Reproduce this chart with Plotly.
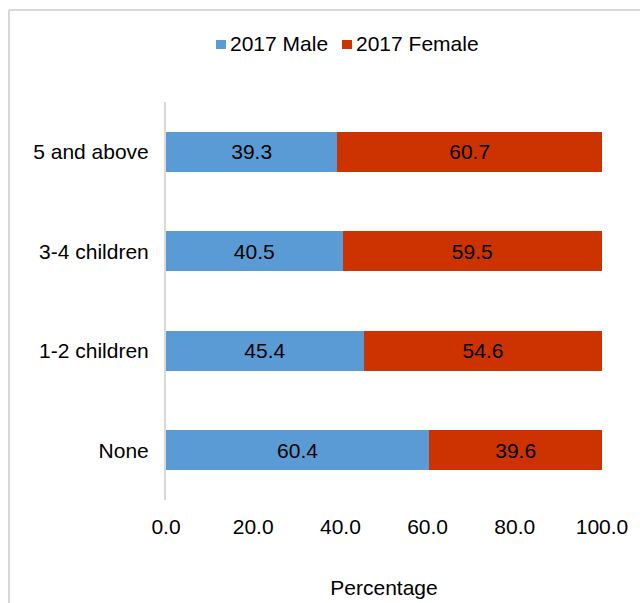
import plotly.graph_objects as go

# Number of children (bottom to top on the category axis)
categories = ["None", "1-2 children", "3-4 children", "5 and above"]
male_2017 = [60.4, 45.4, 40.5, 39.3]
female_2017 = [39.6, 54.6, 59.5, 60.7]
series_names = ["2017 Male", "2017 Female"]
series_colors = ["#5B9BD5", "#CC3300"]
x_ticks = [0, 20, 40, 60, 80, 100]

FONT = "Liberation Sans, Arial, sans-serif"
FS = 21

# plot-area geometry in pixels (used to place the legend and frame in paper coords)
W, H = 640, 603
ML, MR, MT, MB = 166, 38, 102, 103
PW, PH = W - ML - MR, H - MT - MB


def px_to_paper_x(px):
    return (px - ML) / PW


def px_to_paper_y(py):
    return (H - MB - py) / PH


fig = go.Figure()
for name, vals, col in zip(series_names, [male_2017, female_2017], series_colors):
    fig.add_trace(go.Bar(
        y=categories, x=vals, name=name, orientation="h",
        marker=dict(color=col, line=dict(width=0)),
        text=[f"{v:.1f}" for v in vals], textposition="inside",
        insidetextanchor="middle", constraintext="none",
        textfont=dict(family=FONT, size=FS, color="#000000"),
        showlegend=False, hoverinfo="skip",
    ))

# legend drawn as squares + labels above the plot
legend_items = [(series_names[0], series_colors[0], 216), (series_names[1], series_colors[1], 342)]
shapes = []
annotations = []
for name, col, x0 in legend_items:
    shapes.append(dict(type="rect", xref="paper", yref="paper",
                       x0=px_to_paper_x(x0), x1=px_to_paper_x(x0 + 10),
                       y0=px_to_paper_y(49), y1=px_to_paper_y(40),
                       fillcolor=col, line=dict(width=0)))
    annotations.append(dict(text=name, xref="paper", yref="paper",
                            x=px_to_paper_x(x0 + 12), y=px_to_paper_y(43.5),
                            xanchor="left", yanchor="middle", showarrow=False,
                            font=dict(family=FONT, size=FS, color="#000000")))

# chart frame (left and top edges)
frame_col = "#D9D9D9"
shapes.append(dict(type="line", xref="paper", yref="paper", layer="below",
                   x0=px_to_paper_x(9), x1=px_to_paper_x(W + 5),
                   y0=px_to_paper_y(10), y1=px_to_paper_y(10),
                   line=dict(color=frame_col, width=2)))
shapes.append(dict(type="line", xref="paper", yref="paper", layer="below",
                   x0=px_to_paper_x(9), x1=px_to_paper_x(9),
                   y0=px_to_paper_y(10), y1=px_to_paper_y(H + 5),
                   line=dict(color=frame_col, width=2)))

fig.update_layout(
    barmode="stack", bargap=0.6,
    width=W, height=H,
    margin=dict(l=ML, r=MR, t=MT, b=MB, pad=0, autoexpand=False),
    paper_bgcolor="white", plot_bgcolor="white",
    font=dict(family=FONT, size=FS, color="#000000"),
    shapes=shapes, annotations=annotations,
    xaxis=dict(range=[0, 100], tickvals=x_ticks, tickformat=".1f",
               showgrid=False, zeroline=False, showline=False,
               ticks="", ticklabelstandoff=12, automargin=False,
               tickfont=dict(family=FONT, size=FS, color="#000000"),
               title=dict(text="Percentage", standoff=43,
                          font=dict(family=FONT, size=FS, color="#000000"))),
    yaxis=dict(categoryorder="array", categoryarray=categories,
               showgrid=False, zeroline=False, showline=True,
               linecolor="#D9D9D9", linewidth=2,
               ticks="", ticklabelstandoff=11, automargin=False,
               tickfont=dict(family=FONT, size=FS, color="#000000")),
)

fig.write_html("out.html")
